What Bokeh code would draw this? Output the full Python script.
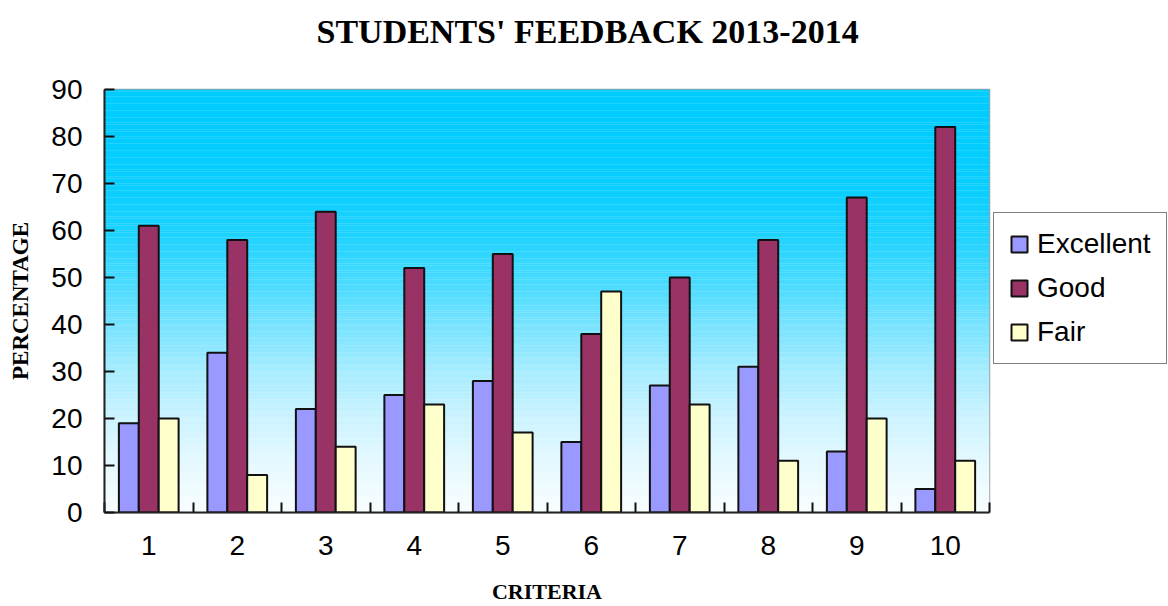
from bokeh.plotting import figure
from bokeh.models import (ColumnDataSource, Range1d, FixedTicker, Legend,
                          LegendItem, BoxAnnotation, Title)
from bokeh.transform import dodge
from bokeh.embed import file_html
from bokeh.resources import INLINE

# ---------------- data ----------------
criteria = [1, 2, 3, 4, 5, 6, 7, 8, 9, 10]
excellent = [19, 34, 22, 25, 28, 15, 27, 31, 13, 5]
good = [61, 58, 64, 52, 55, 38, 50, 58, 67, 82]
fair = [20, 8, 14, 23, 17, 47, 23, 11, 20, 11]
series_names = ["Excellent", "Good", "Fair"]
y_ticks = [0, 10, 20, 30, 40, 50, 60, 70, 80, 90]
title_text = "STUDENTS' FEEDBACK 2013-2014"

# ---------------- style ----------------
colors = ["#9999FF", "#993366", "#FFFFCC"]
bar_w = 0.225
offsets = [-bar_w, 0.0, bar_w]
# background gradient stops (value on y axis, colour)
grad_stops = [(0, "#F8FDFF"), (10, "#E6F9FF"), (20, "#CCF3FF"), (30, "#A6ECFF"),
              (40, "#76E3FF"), (50, "#44DAFF"), (60, "#1CD2FF"), (70, "#08CEFF"),
              (80, "#02CCFF"), (90, "#00CCFF")]

src = ColumnDataSource(dict(x=criteria, Excellent=excellent, Good=good, Fair=fair))

p = figure(x_range=Range1d(0.5, 10.5), y_range=Range1d(0, 90),
           frame_width=885, frame_height=423,
           output_backend="svg", toolbar_location=None,
           min_border_left=104, min_border_top=89, min_border_bottom=94,
           min_border_right=0,
           background_fill_color="white", border_fill_color="white")


def hex2rgb(h):
    return tuple(int(h[i:i + 2], 16) for i in (1, 3, 5))


def interp(v):
    for (v0, c0), (v1, c1) in zip(grad_stops[:-1], grad_stops[1:]):
        if v0 <= v <= v1:
            t = (v - v0) / (v1 - v0)
            a, b = hex2rgb(c0), hex2rgb(c1)
            return "#%02X%02X%02X" % tuple(round(a[i] + (b[i] - a[i]) * t) for i in range(3))
    return grad_stops[-1][1]


step = 0.5
n = int(90 / step)
for i in range(n):
    lo = i * step
    p.add_layout(BoxAnnotation(bottom=lo, top=lo + step + 0.05,
                               fill_color=interp(lo + step / 2), fill_alpha=1.0,
                               line_color=None, level="underlay"))

# bars
items = []
for name, col, off in zip(series_names, colors, offsets):
    r = p.vbar(x=dodge("x", off, range=p.x_range), top=name, width=bar_w,
               source=src, fill_color=col, line_color="#111111", line_width=2)
    items.append(LegendItem(label=name, renderers=[r]))

legend = Legend(items=items, location=(4, 148), orientation="vertical",
                padding=15, margin=0, spacing=12, label_height=30,
                glyph_width=20, glyph_height=20, label_standoff=8,
                label_text_font="Liberation Sans", label_text_font_size="28px",
                label_text_color="black",
                border_line_color="black", border_line_width=1.5,
                background_fill_color="white", background_fill_alpha=1.0)
p.add_layout(legend, "right")

# spacer between title and frame
p.add_layout(Title(text=" ", text_font_size="10px", standoff=27), "above")

# title
p.title.text = title_text
p.title.align = "left"
p.title.offset = 212
p.title.vertical_align = "bottom"
p.title.text_font = "Liberation Serif"
p.title.text_font_style = "bold"
p.title.text_font_size = "34px"
p.title.text_color = "black"
p.title.standoff = 0

# grids / outline
p.xgrid.visible = False
p.ygrid.visible = False
p.outline_line_color = "#A0A0A0"
p.outline_line_width = 1.5

# x axis
xa = p.xaxis[0]
xa.ticker = FixedTicker(ticks=criteria,
                        minor_ticks=[c - 0.5 for c in criteria] + [criteria[-1] + 0.5])
xa.major_tick_in = 0
xa.major_tick_out = 0
xa.minor_tick_in = 10
xa.minor_tick_out = 0
xa.minor_tick_line_color = "#111111"
xa.minor_tick_line_width = 2
xa.axis_line_color = "#222222"
xa.axis_line_width = 2
xa.major_label_text_font = "Liberation Sans"
xa.major_label_text_font_size = "28px"
xa.major_label_text_color = "black"
xa.major_label_standoff = 23
xa.axis_label = "CRITERIA"
xa.axis_label_text_font = "Liberation Serif"
xa.axis_label_text_font_style = "bold"
xa.axis_label_text_font_size = "22px"
xa.axis_label_text_color = "black"
xa.axis_label_standoff = 21

# y axis
ya = p.yaxis[0]
ya.ticker = FixedTicker(ticks=y_ticks, minor_ticks=[])
ya.major_tick_in = 10
ya.major_tick_out = 0
ya.major_tick_line_color = "#111111"
ya.major_tick_line_width = 2
ya.minor_tick_in = 0
ya.minor_tick_out = 0
ya.axis_line_color = "#222222"
ya.axis_line_width = 2
ya.major_label_text_font = "Liberation Sans"
ya.major_label_text_font_size = "28px"
ya.major_label_text_color = "black"
ya.major_label_standoff = 22
ya.axis_label = "PERCENTAGE"
ya.axis_label_text_font = "Liberation Serif"
ya.axis_label_text_font_style = "bold"
ya.axis_label_text_font_size = "23px"
ya.axis_label_text_color = "black"
ya.axis_label_standoff = 15

open("out.html", "w").write(file_html(p, INLINE))
